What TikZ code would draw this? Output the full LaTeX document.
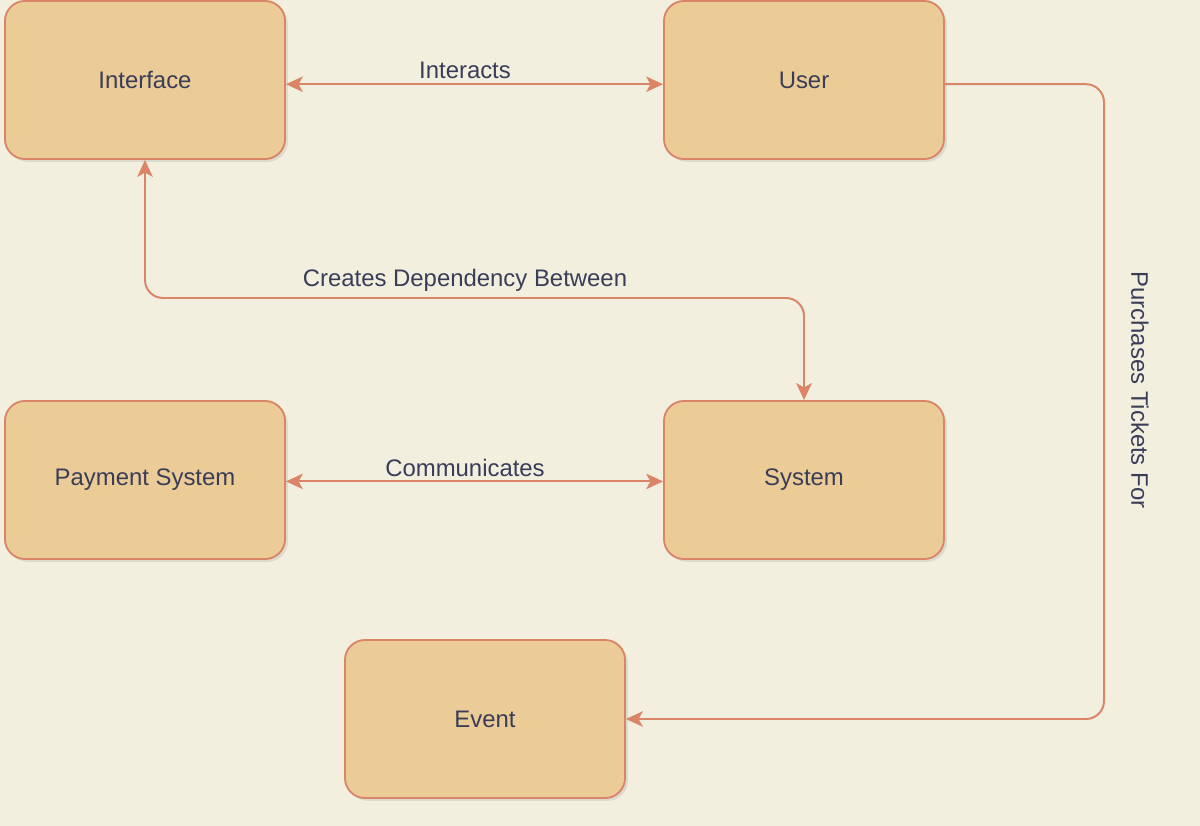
\documentclass[tikz,border=0pt]{standalone}
\usepackage{fontspec}
\setmainfont{Liberation Sans}
\usepackage{tikz}
\usetikzlibrary{arrows.meta, shadows}

\definecolor{bgcream}{HTML}{F2EFDE}
\definecolor{boxfill}{HTML}{EBCB96}
\definecolor{edgecol}{HTML}{DA8468}
\definecolor{textcol}{HTML}{3A3D58}

\begin{document}
\begin{tikzpicture}[x=0.025cm, y=-0.025cm,
		entity/.style={draw=edgecol, line width=1.3pt, fill=boxfill, rounded corners=0.5cm,
			minimum width=7cm, minimum height=3.95cm, text=textcol, font=\fontsize{17}{20}\selectfont,
			drop shadow={opacity=0.18, shadow xshift=2pt, shadow yshift=-2pt}},
		link/.style={draw=edgecol, line width=1.4pt, rounded corners=0.45cm,
			{Stealth[length=12pt, width=11pt, inset=3pt]}-{Stealth[length=12pt, width=11pt, inset=3pt]}},
		onelink/.style={draw=edgecol, line width=1.4pt, rounded corners=0.45cm,
			-{Stealth[length=12pt, width=11pt, inset=3pt]}},
		tag/.style={text=textcol, font=\fontsize{17}{20}\selectfont, inner sep=0pt}]
	\fill[bgcream] (0,0) rectangle (1200,826);
	\useasboundingbox (0,0) rectangle (1200,826);
		\foreach \nm/\txt/\px/\py in {interface/Interface/145/80, user/User/804/80,
			payment/Payment System/145/480, system/System/804/480, event/Event/485/719} {
			\node[entity] (\nm) at (\px,\py) {\txt};
		}
		\coordinate (bendA) at (145,298);
		\coordinate (bendB) at (804,298);
		\coordinate (bendD) at (1104,719);
		\draw[link] ([yshift=-3pt]interface.east) -- ([yshift=-3pt]user.west);
		\draw[link] ([yshift=-1pt]payment.east) -- ([yshift=-1pt]system.west);
		\draw[link] (interface.south) -- (bendA) -- (bendB) -- (system.north);
		\draw[onelink] ([yshift=-3pt]user.east) -| (bendD) -- (event.east);
		\node[tag] (tagInteracts) at (465,70) {Interacts};
		\node[tag] (tagCreates) at (465,280) {Creates Dependency Between};
		\node[tag] (tagComm) at (465,468) {Communicates};
		\node[tag, rotate=-90] (tagBuys) at (1140,390) {Purchases Tickets For};
	\end{tikzpicture}
\end{document}
